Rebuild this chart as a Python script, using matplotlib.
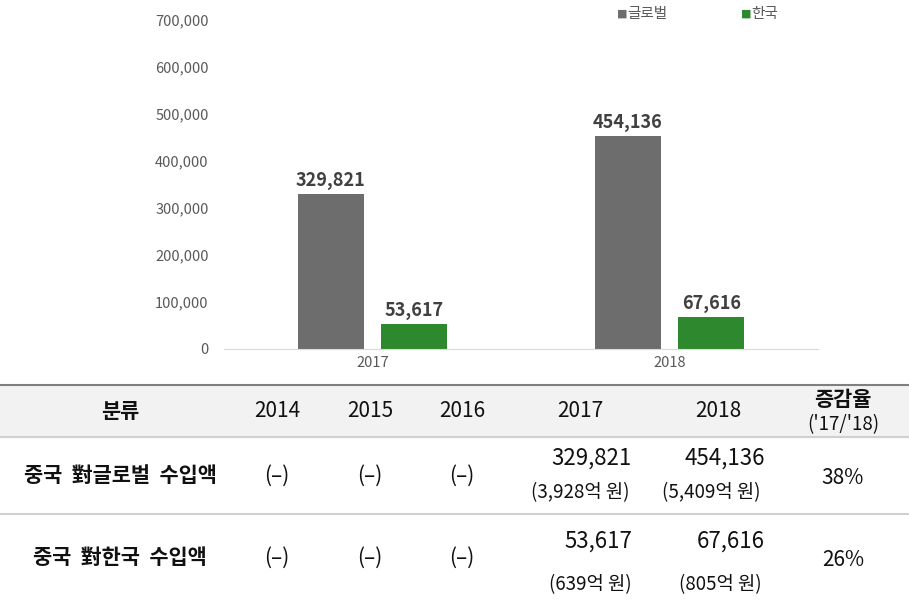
import matplotlib.pyplot as plt
import numpy as np
from matplotlib.patches import Rectangle

plt.rcParams['font.family'] = ['Noto Sans CJK KR', 'DejaVu Sans']

# 1. DATOS

years = ["2017", "2018"]
global_vals = [329821, 454136]
korea_vals = [53617, 67616]
series_names = ["글로벌", "한국"]
colors = ["#6d6d6d", "#2e892e"]
yticks = [0, 100000, 200000, 300000, 400000, 500000, 600000, 700000]

header = ["분류", "2014", "2015", "2016", "2017", "2018"]
rate_header = ["증감율", "('17/'18)"]
row_labels = ["중국  對글로벌  수입액", "중국  對한국  수입액"]
empty_cells = ["(–)", "(–)", "(–)"]
usd_2017 = ["329,821", "53,617"]
usd_2018 = ["454,136", "67,616"]
krw_2017 = ["(3,928억 원)", "(639억 원)"]
krw_2018 = ["(5,409억 원)", "(805억 원)"]
rates = ["38%", "26%"]

W, H = 909, 600
fig = plt.figure(figsize=(W / 100, H / 100), dpi=100)

# 2. GRAFICO DE BARRAS
ax = fig.add_axes([224 / W, (H - 349) / H, 594 / W, 329 / H])
x = np.arange(len(years))
bw = 0.222
gap = 0.06
b1 = ax.bar(x - (bw + gap) / 2, global_vals, bw, color=colors[0], label=series_names[0])
b2 = ax.bar(x + (bw + gap) / 2, korea_vals, bw, color=colors[1], label=series_names[1])
for bars in (b1, b2):
    for r in bars:
        ax.text(r.get_x() + r.get_width() / 2, r.get_height() + 8000, f"{int(r.get_height()):,}",
                ha='center', va='bottom', fontsize=13, fontweight='bold', color='#404040')

ax.set_xlim(-0.5, 1.5)
ax.set_ylim(0, 700000)
ax.set_xticks(x)
ax.set_xticklabels(years, fontsize=10.5, color='#595959')
ax.set_yticks(yticks)
ax.set_yticklabels([f"{v:,}" for v in yticks], fontsize=10.5, color='#595959')
ax.tick_params(length=0, pad=5)
ax.tick_params(axis='y', pad=11)
for s in ['top', 'right', 'left']:
    ax.spines[s].set_visible(False)
ax.spines['bottom'].set_color('#d9d9d9')

# leyenda
for i, (name, lx) in enumerate(zip(series_names, [617, 741])):
    fig.text(lx / W, 1 - 14 / H, "■", color=colors[i], fontsize=8, va='center', ha='left',
             family='DejaVu Sans')
    fig.text((lx + 10) / W, 1 - 14 / H, name, color='#595959', fontsize=10.5, va='center', ha='left')

# 3. TABLA
tx = fig.add_axes([0, 0, 1, 1])
tx.set_xlim(0, W)
tx.set_ylim(H, 0)
tx.axis('off')

tx.add_patch(Rectangle((0, 385), W, 52, color='#f2f2f2', zorder=0))
tx.plot([0, W], [385, 385], color='#7f7f7f', lw=1.5)
tx.plot([0, W], [437, 437], color='#d0d0d0', lw=1.5)
tx.plot([0, W], [514, 514], color='#d0d0d0', lw=1.5)

fs = 15
fs_small = 13.5
col_x = [120, 277, 370, 462, 580, 718]
for i, h in enumerate(header):
    tx.text(col_x[i], 411, h, ha='center', va='center', fontsize=fs,
            fontweight='bold' if i == 0 else 'normal', color='#111111')
tx.text(843, 399, rate_header[0], ha='center', va='center', fontsize=fs, fontweight='bold', color='#111111')
tx.text(843, 425, rate_header[1], ha='center', va='center', fontsize=fs_small, color='#111111')

row_y = [476, 558]
top_y = [458, 541]
bot_y = [493, 585]
for r in range(2):
    tx.text(120, row_y[r], row_labels[r], ha='center', va='center', fontsize=fs, fontweight='bold', color='#111111')
    for j, c in enumerate(empty_cells):
        tx.text(col_x[1 + j], row_y[r], c, ha='center', va='center', fontsize=fs, color='#111111')
    tx.text(632, top_y[r], usd_2017[r], ha='right', va='center', fontsize=fs + 1, color='#111111')
    tx.text(765, top_y[r], usd_2018[r], ha='right', va='center', fontsize=fs + 1, color='#111111')
    if r == 0:
        tx.text(580, bot_y[r], krw_2017[r], ha='center', va='center', fontsize=fs_small, color='#111111')
        tx.text(711, bot_y[r], krw_2018[r], ha='center', va='center', fontsize=fs_small, color='#111111')
    else:
        tx.text(632, bot_y[r], krw_2017[r], ha='right', va='center', fontsize=fs_small, color='#111111')
        tx.text(762, bot_y[r], krw_2018[r], ha='right', va='center', fontsize=fs_small, color='#111111')
    tx.text(843, row_y[r] + 2, rates[r], ha='center', va='center', fontsize=fs, color='#111111')

fig.savefig("out.png", dpi=100)
